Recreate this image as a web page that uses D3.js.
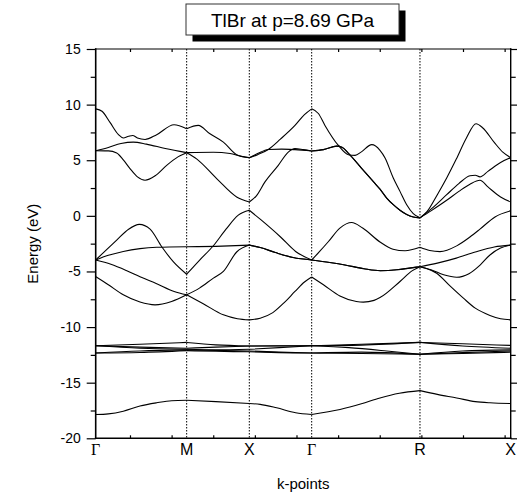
<!DOCTYPE html>
<html>
<head>
<meta charset="utf-8">
<script src="https://cdn.jsdelivr.net/npm/d3@7"></script>
<style>
  body { margin: 0; background: #fff; }
  svg { display: block; font-family: Arial, "Liberation Sans", sans-serif; }
</style>
</head>
<body>
<div id="band-structure"></div>
<script>
(function () {
    // High-symmetry points along the k path (path length units)
    const kLabels = ["Γ", "M", "X", "Γ", "R", "X"];
    const kNodes = [0, 0.719, 1.214, 1.707, 2.563, 3.28];
    const kTickStart = 0.271, kTickStep = 0.329;

    // Energy axis
    const yTicks = [-20, -15, -10, -5, 0, 5, 10, 15];
    const yMinorTicks = [-17.5, -12.5, -7.5, -2.5, 2.5, 7.5, 12.5];

    // Bands: [k, energy in eV]
    const bandBr4s = [[0,-17.86],[0.1,-17.8],[0.218,-17.56],[0.35,-17.1],[0.482,-16.81],[0.6,-16.62],[0.719,-16.58],
        [0.95,-16.7],[1.214,-16.87],[1.3,-16.95],[1.43,-17.26],[1.58,-17.7],[1.707,-17.86],
        [1.931,-17.41],[2.1,-16.9],[2.247,-16.37],[2.4,-15.95],[2.563,-15.71],
        [2.7,-16.05],[2.853,-16.37],[3.0,-16.7],[3.116,-16.81],[3.28,-16.87]];

    const bandTl5d1 = [[0,-11.68],[0.35,-11.55],[0.719,-11.38],[0.95,-11.6],[1.214,-11.7],[1.45,-11.68],[1.707,-11.68],
        [2.1,-11.55],[2.563,-11.38],[2.9,-11.5],[3.28,-11.65]];
    const bandTl5d2 = [[0,-11.68],[0.35,-11.8],[0.719,-11.9],[0.95,-11.8],[1.214,-11.7],[1.45,-11.7],[1.707,-11.68],
        [2.1,-11.62],[2.563,-11.38],[2.9,-11.7],[3.28,-11.9]];
    const bandTl5d3 = [[0,-11.68],[0.35,-11.9],[0.719,-12.0],[0.95,-12.05],[1.214,-12.0],[1.45,-11.85],[1.707,-11.68],
        [2.0,-11.85],[2.3,-12.15],[2.563,-12.45],[2.9,-12.15],[3.28,-12.05]];
    const bandTl5d4 = [[0,-12.33],[0.35,-12.15],[0.719,-12.05],[0.95,-12.1],[1.214,-12.15],[1.45,-12.25],[1.707,-12.33],
        [2.1,-12.25],[2.563,-12.45],[2.9,-12.3],[3.28,-12.15]];
    const bandTl5d5 = [[0,-12.33],[0.35,-12.28],[0.719,-12.12],[0.95,-12.18],[1.214,-12.22],[1.45,-12.3],[1.707,-12.33],
        [2.1,-12.38],[2.563,-12.45],[2.9,-12.38],[3.28,-12.25]];

    const bandVal1 = [[0,-3.97],[0.08,-3.1],[0.166,-2.18],[0.26,-1.2],[0.345,-0.77],[0.43,-1.2],[0.522,-2.78],[0.613,-4.12],[0.719,-5.25],
        [0.82,-4.0],[0.93,-2.69],[1.03,-1.2],[1.127,0.06],[1.214,0.5],
        [1.3,-0.3],[1.461,-1.9],[1.58,-3.2],[1.707,-3.97],
        [1.77,-3.2],[1.838,-2.33],[1.93,-1.1],[2.023,-0.6],[2.11,-1.1],[2.247,-2.35],[2.35,-3.0],[2.445,-3.14],[2.563,-2.83],
        [2.64,-3.12],[2.721,-3.22],[2.853,-2.7],[2.958,-1.9],[3.037,-1.2],[3.156,-0.1],[3.28,0.45]];
    const bandVal2 = [[0,-3.97],[0.1,-3.55],[0.218,-3.2],[0.35,-2.95],[0.482,-2.83],[0.719,-2.78],
        [1.0,-2.72],[1.214,-2.63],
        [1.3,-2.85],[1.42,-3.3],[1.56,-3.75],[1.707,-3.97],
        [1.85,-4.2],[1.97,-4.42],[2.12,-4.75],[2.25,-4.93],[2.38,-4.85],[2.48,-4.7],[2.563,-4.57],
        [2.7,-4.25],[2.85,-3.8],[3.0,-3.25],[3.15,-2.8],[3.28,-2.63]];
    const bandVal3 = [[0,-3.97],[0.12,-4.35],[0.25,-4.95],[0.35,-5.47],[0.482,-6.1],[0.62,-6.8],[0.719,-7.1],
        [0.82,-6.5],[0.93,-5.6],[1.009,-5.0],[1.114,-3.25],[1.214,-2.63],
        [1.3,-2.85],[1.42,-3.3],[1.56,-3.75],[1.707,-3.97],
        [1.85,-4.2],[1.97,-4.42],[2.12,-4.75],[2.25,-4.93],[2.38,-4.85],[2.48,-4.7],[2.563,-4.57],
        [2.65,-4.85],[2.75,-5.3],[2.853,-5.52],[2.95,-5.2],[3.04,-4.4],[3.116,-3.52],[3.2,-2.9],[3.28,-2.63]];
    const bandVal4 = [[0,-5.47],[0.1,-6.2],[0.218,-7.1],[0.35,-7.75],[0.469,-8.0],[0.6,-7.7],[0.719,-7.1],
        [0.85,-7.9],[1.009,-8.9],[1.12,-9.25],[1.214,-9.35],
        [1.3,-9.2],[1.4,-8.7],[1.49,-7.8],[1.575,-6.8],[1.65,-5.95],[1.707,-5.5],
        [1.8,-6.2],[1.93,-7.2],[2.06,-7.7],[2.115,-7.76],[2.2,-7.6],[2.247,-7.35],[2.405,-5.9],[2.5,-4.95],[2.563,-4.57],
        [2.62,-4.75],[2.695,-5.16],[2.8,-6.3],[2.906,-7.4],[3.0,-8.3],[3.116,-8.95],[3.2,-9.25],[3.28,-9.35]];

    const bandCon1 = [[0,9.62],[0.05,9.4],[0.113,8.4],[0.18,7.3],[0.218,7.0],[0.26,7.15],[0.292,7.23],[0.33,7.0],[0.39,6.87],[0.482,7.3],[0.619,8.19],[0.719,7.83],
        [0.811,8.13],[0.9,7.4],[1.009,6.63],[1.114,5.5],[1.214,5.23],
        [1.28,5.5],[1.364,5.97],[1.46,6.9],[1.575,8.13],[1.65,9.1],[1.707,9.62],
        [1.76,9.2],[1.812,8.13],[1.918,6.33],[1.997,5.5],[2.05,5.44],[2.1,5.75],[2.182,6.4],[2.247,5.89],[2.287,5.2],[2.352,3.4],[2.405,2.2],[2.458,1.0],[2.51,0.2],[2.563,-0.18],
        [2.62,0.4],[2.7,1.9],[2.774,3.4],[2.85,5.1],[2.93,7.0],[3.006,8.28],[3.06,7.9],[3.15,6.6],[3.22,5.7],[3.28,5.23]];
    const bandCon2 = [[0,5.85],[0.1,6.15],[0.2,6.5],[0.297,6.63],[0.4,6.45],[0.55,6.05],[0.719,5.68],
        [0.93,5.72],[1.062,5.6],[1.15,5.35],[1.214,5.23],
        [1.28,5.6],[1.364,5.97],[1.47,6.0],[1.575,5.95],[1.707,5.83],
        [1.8,5.95],[1.905,6.27],[1.95,6.15],[2.0,5.6],[2.1,4.3],[2.2,3.0],[2.247,2.4],[2.3,1.6],[2.352,1.0],[2.405,0.5],[2.458,0.12],[2.51,-0.1],[2.563,-0.18],
        [2.65,0.6],[2.774,1.9],[2.87,2.9],[2.958,3.6],[3.0,3.65],[3.037,3.5],[3.1,4.0],[3.2,4.8],[3.28,5.23]];
    const bandCon3 = [[0,5.85],[0.1,5.84],[0.166,5.65],[0.22,5.0],[0.271,4.25],[0.33,3.5],[0.39,3.2],[0.47,3.6],[0.561,4.54],[0.65,5.3],[0.719,5.68],
        [0.8,5.1],[0.956,3.35],[1.114,1.7],[1.214,1.25],
        [1.27,1.8],[1.338,3.05],[1.443,4.54],[1.522,5.73],[1.575,6.04],[1.64,5.95],[1.707,5.83],
        [1.8,5.95],[1.905,6.27],[1.95,6.15],[2.0,5.6],[2.1,4.3],[2.2,3.0],[2.247,2.4],[2.3,1.6],[2.352,1.0],[2.405,0.5],[2.458,0.12],[2.51,-0.1],[2.563,-0.18],
        [2.65,0.45],[2.774,1.4],[2.87,2.2],[2.958,2.85],[3.037,3.2],[3.1,2.6],[3.2,1.7],[3.28,1.25]];

    const bands = [bandBr4s, bandTl5d1, bandTl5d2, bandTl5d3, bandTl5d4, bandTl5d5,
        bandVal1, bandVal2, bandVal3, bandVal4, bandCon1, bandCon2, bandCon3];

    // Plot area
    const width = 517, height = 497;
    const margin = { top: 49, right: 6.3, bottom: 58.7, left: 95.7 };
    const x0 = margin.left, x1 = width - margin.right;
    const y0 = margin.top, y1 = height - margin.bottom;

    const x = d3.scaleLinear().domain([kNodes[0], kNodes[kNodes.length - 1]]).range([x0, x1]);
    const y = d3.scaleLinear().domain([-20, 15]).range([y1, y0]);

    const svg = d3.select("#band-structure")
        .append("svg")
        .attr("width", width)
        .attr("height", height);

    // Dotted lines at the inner high-symmetry points
    svg.selectAll(".kline")
        .data(kNodes.slice(1, -1))
        .enter()
        .append("line")
        .attr("class", "kline")
        .attr("x1", d => x(d)).attr("x2", d => x(d))
        .attr("y1", y0).attr("y2", y1)
        .attr("stroke", "#000")
        .attr("stroke-width", 1)
        .attr("stroke-dasharray", "1.5,1.5");

    // Bands, drawn one segment at a time so the curves may kink at the nodes
    const bandLine = d3.line()
        .x(d => x(d[0]))
        .y(d => y(d[1]))
        .curve(d3.curveMonotoneX);

    bands.forEach(band => {
        for (let s = 0; s < kNodes.length - 1; s++) {
            const seg = band.filter(d => d[0] >= kNodes[s] - 1e-6 && d[0] <= kNodes[s + 1] + 1e-6);
            svg.append("path")
                .attr("d", bandLine(seg))
                .attr("fill", "none")
                .attr("stroke", "#000")
                .attr("stroke-width", 1.1);
        }
    });

    // Axes
    const styleAxis = g => {
        g.select(".domain").remove();
        g.selectAll("line").attr("stroke", "#000").attr("stroke-width", 1.2);
        g.selectAll("text").attr("fill", "#000").attr("font-size", "14px")
            .attr("font-family", "Arial, 'Liberation Sans', sans-serif");
    };

    svg.append("g")
        .attr("transform", `translate(${x0},0)`)
        .call(d3.axisLeft(y).tickValues(yTicks).tickSize(9).tickPadding(6).tickFormat(d => String(d)))
        .call(styleAxis);
    svg.append("g")
        .attr("transform", `translate(${x0},0)`)
        .call(d3.axisLeft(y).tickValues(yMinorTicks).tickSize(5).tickFormat(""))
        .call(styleAxis);
    svg.append("g")
        .attr("transform", `translate(${x1},0)`)
        .call(d3.axisRight(y).tickValues(yTicks).tickSize(9).tickFormat(""))
        .call(styleAxis);
    svg.append("g")
        .attr("transform", `translate(${x1},0)`)
        .call(d3.axisRight(y).tickValues(yMinorTicks).tickSize(5).tickFormat(""))
        .call(styleAxis);

    const kTicks = d3.range(kTickStart, kNodes[kNodes.length - 1], kTickStep);
    svg.append("g")
        .attr("transform", `translate(0,${y1})`)
        .call(d3.axisBottom(x).tickValues(kTicks).tickSize(-3).tickFormat(""))
        .call(styleAxis);
    svg.append("g")
        .attr("transform", `translate(0,${y0})`)
        .call(d3.axisTop(x).tickValues(kTicks).tickSize(-3).tickFormat(""))
        .call(styleAxis);

    // Frame
    const frame = [
        { a: [x0, y0, x0, y1], w: 1.6 },
        { a: [x0, y1, x1, y1], w: 1.6 },
        { a: [x0, y0, x1, y0], w: 1.2 },
        { a: [x1, y0, x1, y1], w: 1.4 }
    ];
    svg.selectAll(".frame")
        .data(frame)
        .enter()
        .append("line")
        .attr("x1", d => d.a[0]).attr("y1", d => d.a[1])
        .attr("x2", d => d.a[2]).attr("y2", d => d.a[3])
        .attr("stroke", "#000")
        .attr("stroke-width", d => d.w)
        .attr("stroke-linecap", "square");

    // k-point labels
    svg.selectAll(".klabel")
        .data(kLabels)
        .enter()
        .append("text")
        .attr("class", "klabel")
        .attr("x", (d, i) => x(kNodes[i]))
        .attr("y", 455)
        .attr("text-anchor", "middle")
        .attr("font-size", "16px")
        .attr("font-family", d => d === "Γ" ? "'Liberation Serif', 'DejaVu Serif', serif" : "Arial, 'Liberation Sans', sans-serif")
        .text(d => d);

    // Axis titles
    svg.append("text")
        .attr("x", (x0 + x1) / 2)
        .attr("y", 489)
        .attr("text-anchor", "middle")
        .attr("font-size", "15px")
        .text("k-points");

    svg.append("text")
        .attr("transform", `translate(38,${(y0 + y1) / 2}) rotate(-90)`)
        .attr("text-anchor", "middle")
        .attr("font-size", "15px")
        .text("Energy (eV)");

    // Title box with drop shadow
    const box = { x: 186, y: 4, w: 213, h: 31, off: 6.5 };
    svg.append("rect")
        .attr("x", box.x + box.off).attr("y", box.y + box.off)
        .attr("width", box.w).attr("height", box.h)
        .attr("fill", "#000");
    svg.append("rect")
        .attr("x", box.x).attr("y", box.y)
        .attr("width", box.w).attr("height", box.h)
        .attr("fill", "#fff")
        .attr("stroke", "#333")
        .attr("stroke-width", 1);
    svg.append("text")
        .attr("x", box.x + box.w / 2)
        .attr("y", box.y + 22.5)
        .attr("text-anchor", "middle")
        .attr("font-size", "19px")
        .text("TlBr at p=8.69 GPa");
})();
</script>
</body>
</html>
